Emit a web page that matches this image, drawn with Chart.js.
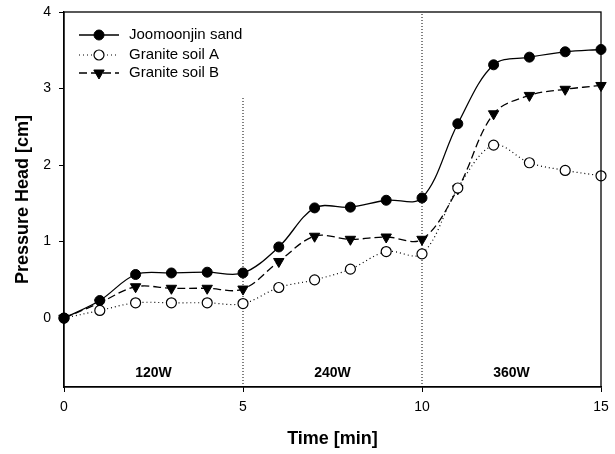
<!DOCTYPE html>
<html>
<head>
<meta charset="utf-8">
<script src="https://cdn.jsdelivr.net/npm/chart.js@4.4.1/dist/chart.umd.min.js"></script>
<style>
  html, body { margin: 0; padding: 0; background: #fff; }
  #wrap { width: 615px; height: 454px; }
</style>
</head>
<body>
<div id="wrap"><canvas id="chart" width="615" height="454"></canvas></div>
<script>
// Data
const times = [0, 1, 2, 3, 4, 5, 6, 7, 8, 9, 10, 11, 12, 13, 14, 15];
const joomoonjin = [0, 0.23, 0.57, 0.59, 0.6, 0.59, 0.93, 1.44, 1.45, 1.54, 1.57, 2.54, 3.31, 3.41, 3.48, 3.51];
const graniteA = [0, 0.1, 0.2, 0.2, 0.2, 0.19, 0.4, 0.5, 0.64, 0.87, 0.84, 1.7, 2.26, 2.03, 1.93, 1.86];
const graniteB = [0, 0.2, 0.41, 0.39, 0.39, 0.38, 0.74, 1.07, 1.03, 1.06, 1.03, 1.69, 2.67, 2.91, 2.99, 3.04];
const xTicks = [0, 5, 10, 15];
const yTicks = [0, 1, 2, 3, 4];
const powerLabels = ['120W', '240W', '360W'];
const powerLabelX = [2.5, 7.5, 12.5];
const powerLabelY = -0.72;
const dividerX = [5, 10];
const dividerTop = [2.9, 4];

const FONT = '"Liberation Sans", Arial, sans-serif';

function toPoints(xs, ys) {
    return xs.map((x, i) => ({ x: x, y: ys[i] }));
}

const seriesDatasets = [
    {
        label: 'Joomoonjin sand',
        data: toPoints(times, joomoonjin),
        borderColor: '#000',
        backgroundColor: '#000',
        borderWidth: 1.3,
        borderDash: [],
        pointStyle: 'circle',
        pointRadius: 5,
        pointRotation: 0,
        pointBackgroundColor: '#000',
        pointBorderColor: '#000',
        pointBorderWidth: 1
    },
    {
        label: 'Granite soil A',
        data: toPoints(times, graniteA),
        borderColor: '#000',
        backgroundColor: '#fff',
        borderWidth: 1.2,
        borderDash: [1, 3],
        pointStyle: 'circle',
        pointRadius: 5,
        pointRotation: 0,
        pointBackgroundColor: '#fff',
        pointBorderColor: '#000',
        pointBorderWidth: 1.2
    },
    {
        label: 'Granite soil B',
        data: toPoints(times, graniteB),
        borderColor: '#000',
        backgroundColor: '#000',
        borderWidth: 1.3,
        borderDash: [8, 4],
        pointStyle: 'triangle',
        pointRadius: 6,
        pointRotation: 180,
        pointBackgroundColor: '#000',
        pointBorderColor: '#000',
        pointBorderWidth: 1
    }
];

const dividerDatasets = dividerX.map((x, i) => ({
    label: 'divider' + i,
    data: [{ x: x, y: -0.9 }, { x: x, y: dividerTop[i] }],
    borderColor: '#000',
    borderWidth: 1,
    borderDash: [1, 2],
    pointRadius: 0,
    tension: 0
}));

// Frame, legend and power labels
const extras = {
    id: 'extras',
    afterDatasetsDraw(chart) {
        const ctx = chart.ctx;
        const a = chart.chartArea;
        const xs = chart.scales.x;
        const ys = chart.scales.y;
        ctx.save();
        ctx.strokeStyle = '#000';
        ctx.lineWidth = 1.3;
        ctx.strokeRect(a.left, a.top, a.right - a.left, a.bottom - a.top);

        ctx.fillStyle = '#000';
        ctx.font = 'bold 14px ' + FONT;
        ctx.textAlign = 'center';
        ctx.textBaseline = 'middle';
        powerLabels.forEach((t, i) => {
            ctx.fillText(t, xs.getPixelForValue(powerLabelX[i]), ys.getPixelForValue(powerLabelY));
        });

        // legend
        const lx0 = 79, lx1 = 119, tx = 129;
        const rows = [35, 55, 73];
        ctx.font = '15px ' + FONT;
        ctx.textAlign = 'left';
        seriesDatasets.forEach((ds, i) => {
            const y = rows[i];
            ctx.beginPath();
            ctx.setLineDash(ds.borderDash);
            ctx.lineWidth = ds.borderWidth;
            ctx.moveTo(lx0, y);
            ctx.lineTo(lx1, y);
            ctx.stroke();
            ctx.setLineDash([]);
            ctx.fillStyle = ds.pointBackgroundColor;
            ctx.strokeStyle = ds.pointBorderColor;
            ctx.lineWidth = ds.pointBorderWidth;
            Chart.helpers.drawPoint(ctx, {
                pointStyle: ds.pointStyle,
                rotation: ds.pointRotation,
                radius: ds.pointRadius,
                borderWidth: ds.pointBorderWidth
            }, (lx0 + lx1) / 2, y);
            ctx.fillStyle = '#000';
            ctx.strokeStyle = '#000';
            ctx.fillText(ds.label, tx, y);
        });
        ctx.restore();
    }
};

new Chart(document.getElementById('chart').getContext('2d'), {
    type: 'line',
    data: { datasets: seriesDatasets.concat(dividerDatasets) },
    options: {
        responsive: false,
        animation: false,
        events: [],
        layout: { padding: { top: 12, right: 14, left: 0, bottom: 0 } },
        elements: {
            line: { tension: 0.35, fill: false },
            point: { hitRadius: 0 }
        },
        datasets: { line: { clip: false } },
        plugins: {
            legend: { display: false },
            tooltip: { enabled: false }
        },
        scales: {
            x: {
                type: 'linear',
                min: 0,
                max: 15,
                afterBuildTicks(scale) { scale.ticks = xTicks.map(v => ({ value: v })); },
                afterFit(scale) {
                    scale.height = 67;
                    scale.paddingLeft = 0;
                    scale.paddingRight = 0;
                },
                grid: { drawOnChartArea: false, drawTicks: true, tickLength: 5, color: '#000' },
                border: { display: true, color: '#000', width: 1.3 },
                ticks: { color: '#000', font: { family: FONT, size: 14 }, padding: 7, maxRotation: 0 },
                title: {
                    display: true,
                    text: 'Time [min]',
                    color: '#000',
                    font: { family: FONT, size: 18, weight: 'bold' },
                    padding: { top: 4, bottom: 4 }
                }
            },
            y: {
                type: 'linear',
                min: -0.9,
                max: 4,
                afterBuildTicks(scale) { scale.ticks = yTicks.map(v => ({ value: v })); },
                afterFit(scale) {
                    scale.width = 64;
                    scale.paddingTop = 0;
                    scale.paddingBottom = 0;
                },
                grid: { drawOnChartArea: false, drawTicks: true, tickLength: 5, color: '#000' },
                border: { display: true, color: '#000', width: 1.3 },
                ticks: { color: '#000', font: { family: FONT, size: 14 }, padding: 8 },
                title: {
                    display: true,
                    text: 'Pressure Head [cm]',
                    color: '#000',
                    font: { family: FONT, size: 18, weight: 'bold' },
                    padding: { top: 12, bottom: 12 }
                }
            }
        }
    },
    plugins: [extras]
});
</script>
</body>
</html>
